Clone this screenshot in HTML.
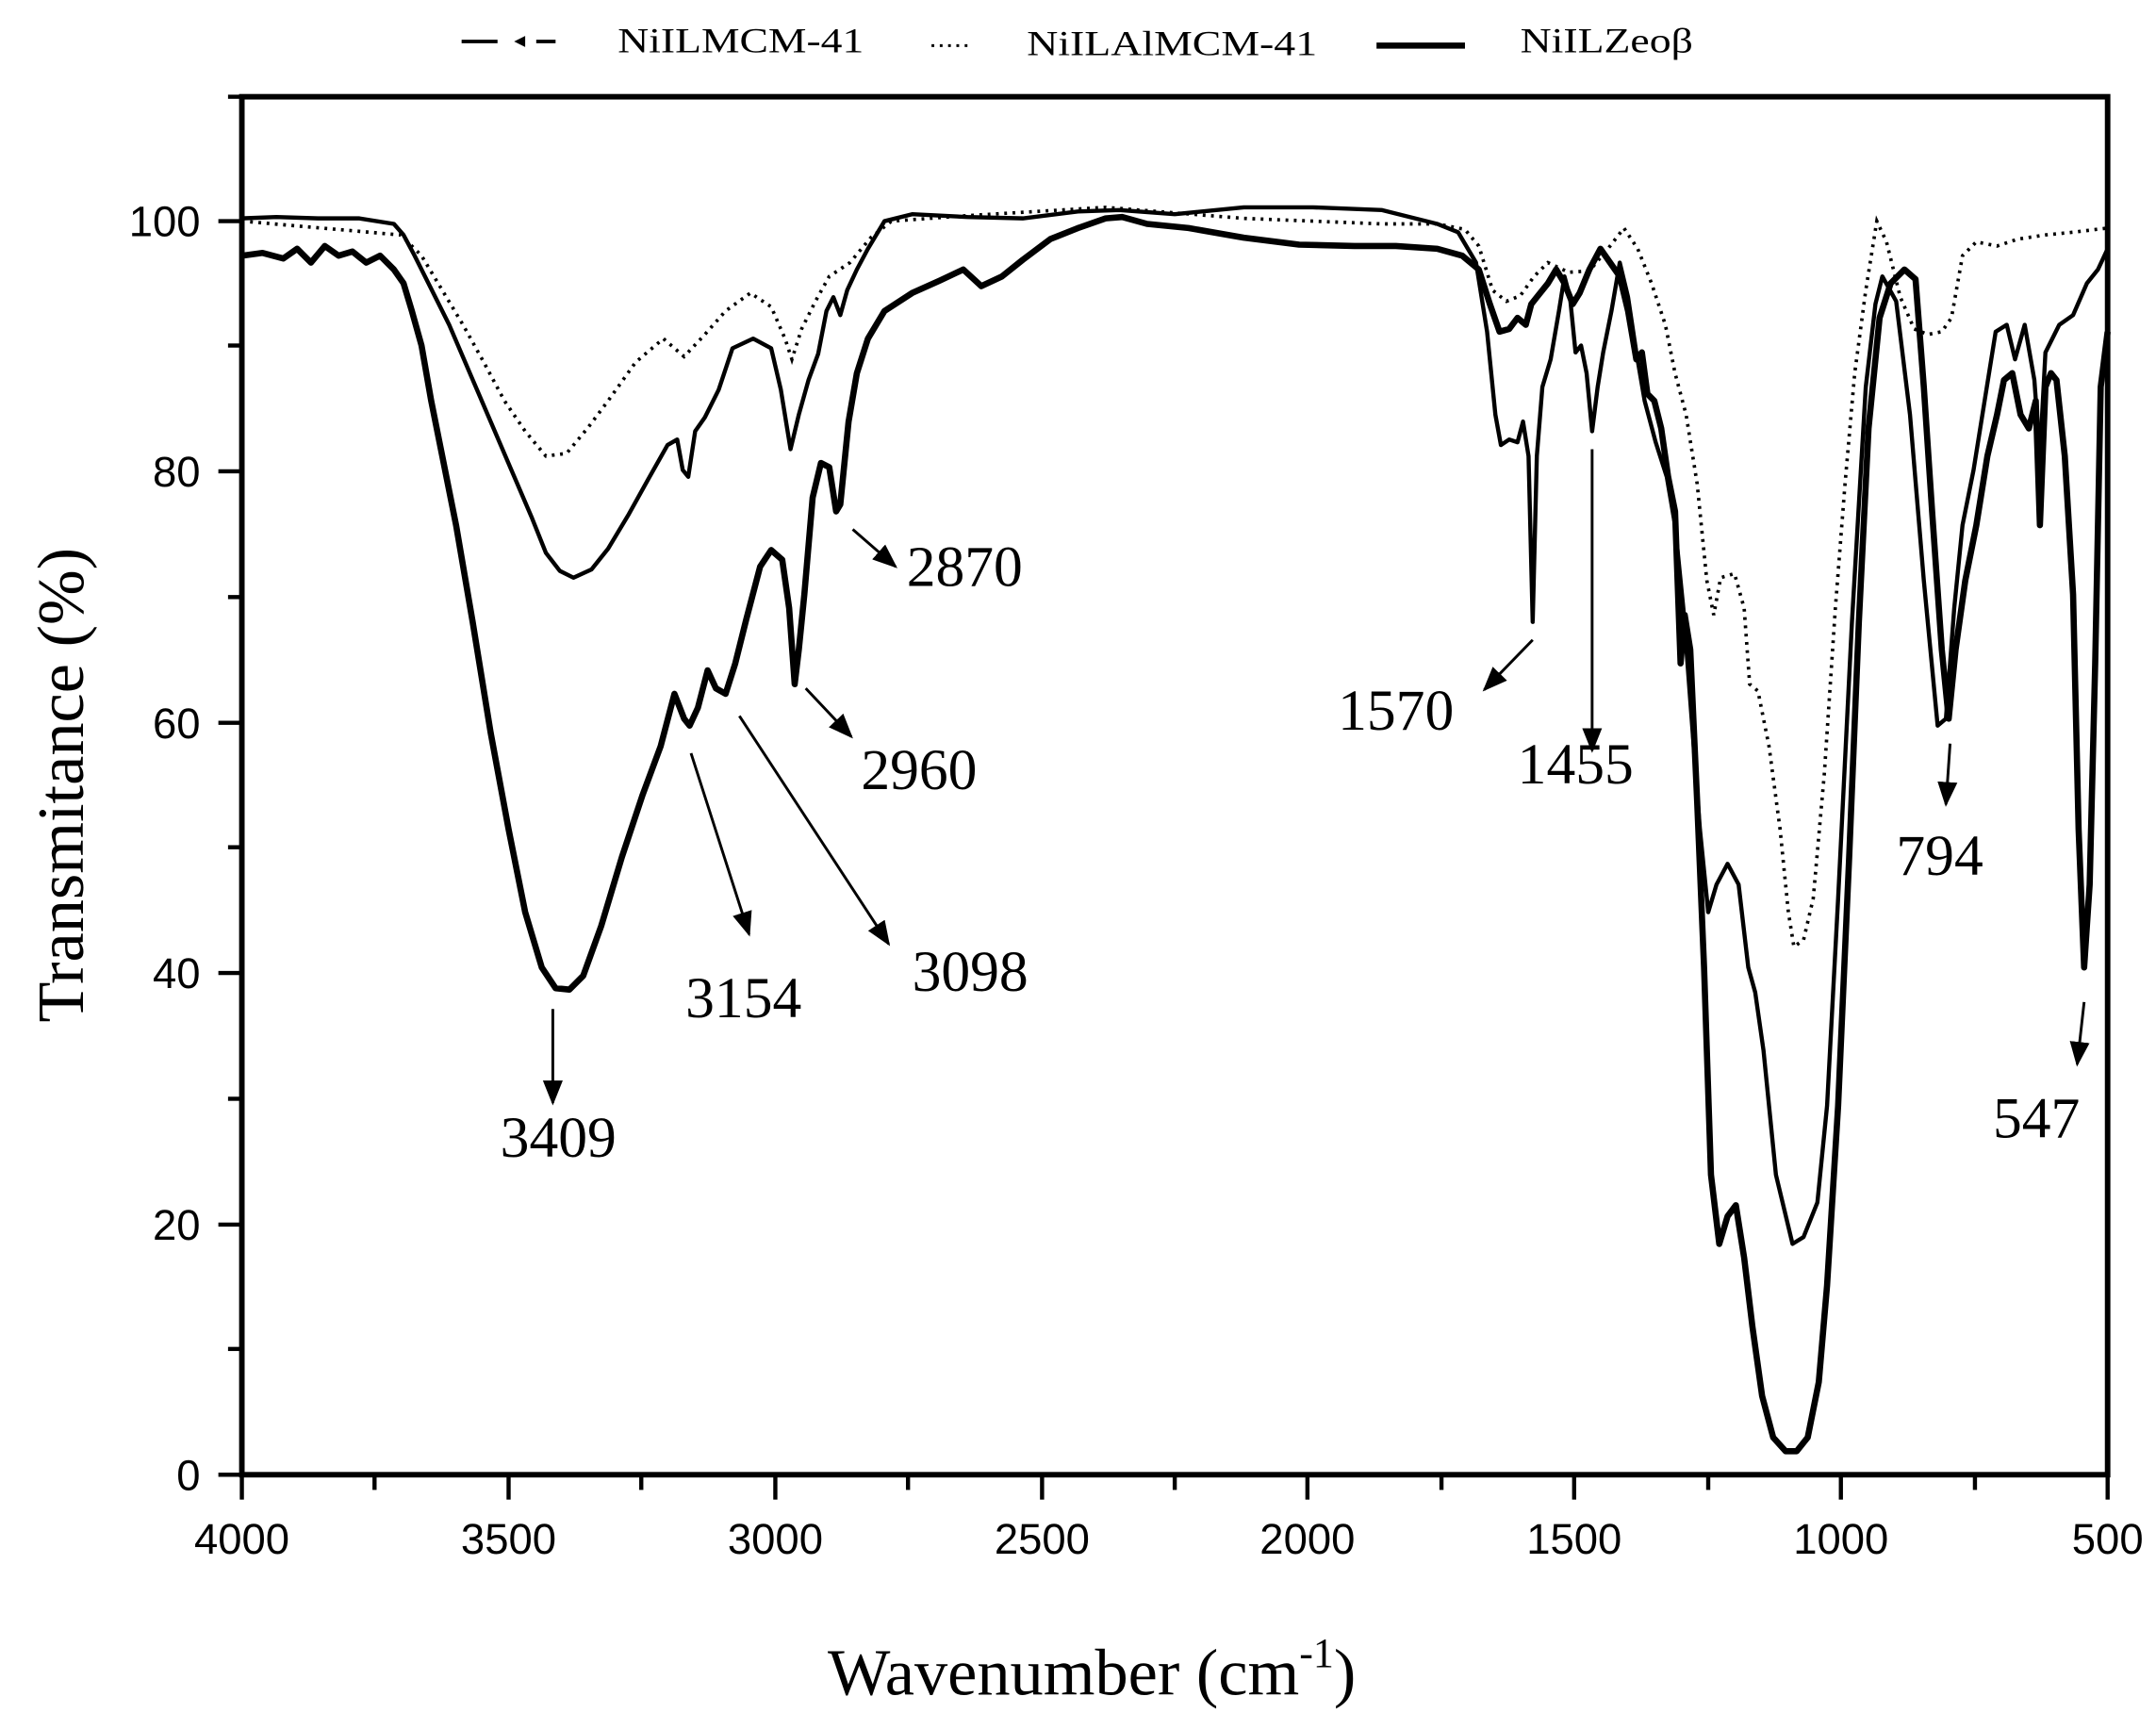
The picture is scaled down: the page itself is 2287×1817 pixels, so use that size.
<!DOCTYPE html>
<html><head><meta charset="utf-8"><style>html,body{margin:0;padding:0;background:#fff}svg{display:block}</style></head>
<body>
<svg width="2287" height="1817" viewBox="0 0 1560 1239.4" preserveAspectRatio="none" xmlns="http://www.w3.org/2000/svg">
<rect width="1560" height="1240" fill="#fff"/>
<g font-family="Liberation Serif, serif" fill="#000">
<line x1="334" y1="30" x2="360" y2="30" stroke="#000" stroke-width="2.5"/>
<path d="M372 30 L380 26 L380 34 Z"/>
<line x1="388" y1="30" x2="402" y2="30" stroke="#000" stroke-width="2.5"/>
<text x="447" y="38" font-size="25" textLength="178" lengthAdjust="spacingAndGlyphs">NiILMCM-41</text>
<line x1="674" y1="33" x2="700" y2="33" stroke="#000" stroke-width="2" stroke-dasharray="2,4"/>
<text x="743" y="40" font-size="25" textLength="210" lengthAdjust="spacingAndGlyphs">NiILAlMCM-41</text>
<line x1="996" y1="33" x2="1060" y2="33" stroke="#000" stroke-width="4.5"/>
<text x="1100" y="38" font-size="25" textLength="125" lengthAdjust="spacingAndGlyphs">NiILZeoβ</text>
</g>
<rect x="175" y="70" width="1350" height="997" fill="none" stroke="#000" stroke-width="4"/>
<g stroke="#000" stroke-width="3">
<line x1="175" y1="1067" x2="175" y2="1085"/><line x1="368" y1="1067" x2="368" y2="1085"/><line x1="561" y1="1067" x2="561" y2="1085"/><line x1="754" y1="1067" x2="754" y2="1085"/><line x1="946" y1="1067" x2="946" y2="1085"/><line x1="1139" y1="1067" x2="1139" y2="1085"/><line x1="1332" y1="1067" x2="1332" y2="1085"/><line x1="1525" y1="1067" x2="1525" y2="1085"/>
<line x1="271" y1="1067" x2="271" y2="1078"/><line x1="464" y1="1067" x2="464" y2="1078"/><line x1="657" y1="1067" x2="657" y2="1078"/><line x1="850" y1="1067" x2="850" y2="1078"/><line x1="1043" y1="1067" x2="1043" y2="1078"/><line x1="1236" y1="1067" x2="1236" y2="1078"/><line x1="1429" y1="1067" x2="1429" y2="1078"/>
<line x1="158" y1="1067" x2="175" y2="1067"/><line x1="158" y1="886" x2="175" y2="886"/><line x1="158" y1="704" x2="175" y2="704"/><line x1="158" y1="523" x2="175" y2="523"/><line x1="158" y1="341" x2="175" y2="341"/><line x1="158" y1="160" x2="175" y2="160"/>
<line x1="165" y1="976" x2="175" y2="976"/><line x1="165" y1="795" x2="175" y2="795"/><line x1="165" y1="613" x2="175" y2="613"/><line x1="165" y1="432" x2="175" y2="432"/><line x1="165" y1="250" x2="175" y2="250"/><line x1="165" y1="70" x2="175" y2="70"/>
</g>
<g font-family="Liberation Sans, sans-serif" font-size="31" fill="#000">
<g text-anchor="middle">
<text x="175" y="1124">4000</text><text x="368" y="1124">3500</text><text x="561" y="1124">3000</text><text x="754" y="1124">2500</text><text x="946" y="1124">2000</text><text x="1139" y="1124">1500</text><text x="1332" y="1124">1000</text><text x="1525" y="1124">500</text>
</g>
<g text-anchor="end">
<text x="145" y="1078">0</text><text x="145" y="897">20</text><text x="145" y="715">40</text><text x="145" y="534">60</text><text x="145" y="352">80</text><text x="145" y="171">100</text>
</g>
</g>
<g font-family="Liberation Serif, serif" fill="#000">
<text x="790" y="1226" font-size="48" text-anchor="middle">Wavenumber (cm<tspan font-size="30" dy="-20">-1</tspan><tspan dy="20">)</tspan></text>
<text transform="translate(60,568) rotate(-90)" font-size="48" text-anchor="middle">Transmitance (%)</text>
<g font-size="42">
<text x="362" y="837">3409</text><text x="496" y="736">3154</text><text x="660" y="717">3098</text>
<text x="623" y="571">2960</text><text x="656" y="424">2870</text>
<text x="968" y="528">1570</text><text x="1098" y="567">1455</text>
<text x="1372" y="633">794</text><text x="1442" y="823">547</text>
</g>
</g>
<defs>
<marker id="b" viewBox="0 0 10 10" refX="9" refY="5" markerWidth="18" markerHeight="18" orient="auto" markerUnits="userSpaceOnUse"><path d="M0 1 L10 5 L0 9 Z" fill="#000"/></marker></defs>
<g stroke="#000" stroke-width="2" fill="none" marker-end="url(#b)">
<line x1="400" y1="730" x2="400" y2="798"/>
<line x1="500" y1="545" x2="542" y2="676"/>
<line x1="535" y1="518" x2="643" y2="683"/>
<line x1="583" y1="498" x2="616" y2="533"/>
<line x1="617" y1="383" x2="648" y2="410"/>
<line x1="1109" y1="463" x2="1074" y2="499"/>
<line x1="1152" y1="325" x2="1152" y2="543"/>
<line x1="1411" y1="538" x2="1408" y2="582"/>
<line x1="1508" y1="725" x2="1503" y2="770"/>
</g>
<polyline fill="none" stroke="#000" stroke-width="2.5" stroke-dasharray="2,4" points="175,160 290,170 305,185 320,210 335,235 350,262 365,290 380,312 395,330 410,328 425,310 440,290 460,262 480,245 495,258 510,242 525,225 543,212 558,222 568,245 573,260 580,238 590,218 600,200 615,190 630,172 645,160 700,156 800,150 900,158 1000,162 1040,162 1060,166 1070,178 1080,210 1090,218 1100,214 1110,200 1120,190 1135,197 1150,196 1165,178 1175,165 1185,180 1195,205 1205,235 1212,270 1220,300 1228,350 1235,420 1240,445 1245,418 1255,415 1262,440 1266,495 1272,500 1280,540 1288,600 1294,660 1298,685 1305,680 1312,650 1320,560 1328,440 1335,350 1342,270 1350,210 1358,160 1365,175 1375,215 1385,238 1395,242 1405,240 1412,230 1420,185 1430,175 1445,178 1460,173 1480,170 1500,168 1525,165"/>
<polyline fill="none" stroke="#000" stroke-width="3" stroke-linejoin="round" points="175,158 200,157 230,158 260,158 285,162 292,170 300,185 310,205 325,235 340,270 355,305 370,340 385,375 395,400 405,413 415,418 428,412 440,397 455,372 470,345 483,322 490,318 494,340 498,345 503,312 510,302 520,282 530,252 545,245 558,252 565,282 572,325 578,300 585,275 592,256 598,225 603,215 608,228 613,210 620,195 628,180 640,160 660,155 700,157 740,158 780,153 810,152 850,155 900,150 950,150 1000,152 1040,162 1055,168 1068,190 1076,240 1082,300 1086,322 1092,318 1098,320 1102,305 1106,330 1109,450 1112,330 1116,280 1122,260 1128,225 1132,200 1136,215 1140,255 1144,250 1148,270 1152,312 1156,280 1160,255 1166,225 1172,190 1178,215 1184,255 1190,290 1198,320 1206,345 1212,380 1218,440 1224,520 1230,600 1236,660 1242,640 1250,625 1258,640 1265,700 1270,718 1276,760 1285,850 1297,900 1305,895 1315,870 1322,800 1330,650 1340,450 1350,280 1357,220 1362,200 1372,218 1382,300 1392,420 1402,525 1408,520 1414,440 1420,380 1428,340 1436,290 1444,240 1452,235 1458,260 1465,235 1472,275 1476,330 1480,255 1490,235 1500,228 1510,205 1518,195 1525,180"/>
<polyline fill="none" stroke="#000" stroke-width="4.5" stroke-linejoin="round" points="175,185 190,183 205,187 215,180 225,190 235,178 245,185 255,182 265,190 275,185 285,195 292,205 298,225 305,250 312,290 320,330 330,380 342,450 355,530 368,600 380,660 392,700 402,715 412,716 422,706 435,670 450,620 465,575 478,540 488,502 495,520 499,525 505,512 512,485 518,498 525,502 532,480 540,448 550,410 558,398 566,405 571,440 575,495 578,470 582,430 588,360 594,335 600,338 605,370 608,365 614,305 620,270 628,245 640,225 660,212 680,203 697,195 710,207 725,200 740,188 760,173 780,165 800,158 812,157 830,162 860,165 900,172 940,177 980,178 1010,178 1040,180 1058,185 1070,195 1078,220 1085,240 1092,238 1098,230 1104,235 1108,220 1112,215 1120,205 1126,195 1132,205 1138,220 1143,212 1150,195 1158,180 1165,190 1172,200 1178,225 1184,260 1188,255 1192,285 1197,290 1202,310 1207,345 1212,370 1216,480 1219,445 1223,470 1228,580 1233,700 1238,850 1244,900 1250,880 1256,872 1262,910 1268,960 1275,1010 1283,1040 1292,1050 1300,1050 1308,1040 1316,1000 1322,930 1330,800 1338,620 1345,450 1352,310 1360,230 1368,205 1378,195 1386,202 1392,280 1398,370 1405,470 1410,520 1415,470 1422,420 1430,380 1438,330 1445,300 1450,275 1456,270 1462,300 1468,310 1473,290 1476,380 1480,280 1484,270 1488,275 1494,330 1500,430 1504,600 1508,700 1512,640 1516,480 1520,280 1525,240"/>
</svg>
</body></html>
